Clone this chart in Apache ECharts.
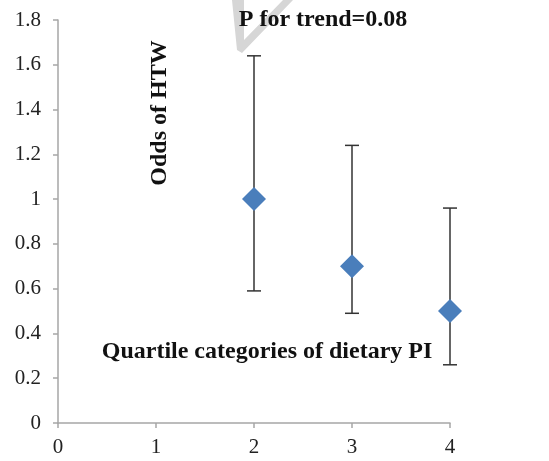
<!DOCTYPE html>
<html><head><meta charset="utf-8">
<script src="https://cdn.jsdelivr.net/npm/echarts@6/dist/echarts.min.js"></script>
<style>html,body{margin:0;padding:0;background:#fff}#c{width:549px;height:461px}</style>
</head><body><div id="c"></div>
<script>
var quartiles = [2, 3, 4];
var odds = [1.0, 0.70, 0.50];
var lowerCI = [0.59, 0.49, 0.26];
var upperCI = [1.64, 1.24, 0.96];
var xTicks = [0, 1, 2, 3, 4];
var yTicks = [0, 0.2, 0.4, 0.6, 0.8, 1, 1.2, 1.4, 1.6, 1.8];

var font = '"Liberation Serif", "Times New Roman", serif';
var chart = echarts.init(document.getElementById('c'));
var pts = quartiles.map(function (q, i) { return [q, odds[i]]; });
var errs = quartiles.map(function (q, i) { return [q, lowerCI[i], upperCI[i]]; });

chart.setOption({
  animation: false,
  grid: { left: 58, right: 99, top: 20, bottom: 38 },
  xAxis: {
    type: 'value', min: xTicks[0], max: xTicks[xTicks.length - 1], interval: 1,
    axisLine: { lineStyle: { color: '#a6a6a6', width: 1.5 } },
    axisTick: { show: true, length: 5, lineStyle: { color: '#a6a6a6', width: 1.5 } },
    axisLabel: { color: '#222', fontFamily: font, fontSize: 21, margin: 14 },
    splitLine: { show: false }
  },
  yAxis: {
    type: 'value', min: yTicks[0], max: yTicks[yTicks.length - 1], interval: 0.2,
    axisLine: { show: true, lineStyle: { color: '#a6a6a6', width: 1.5 } },
    axisTick: { show: true, length: 5, lineStyle: { color: '#a6a6a6', width: 1.5 } },
    axisLabel: { color: '#222', fontFamily: font, fontSize: 21, margin: 17 },
    splitLine: { show: false }
  },
  graphic: [
    { type: 'polygon', z: 1, shape: { points: [[232, 0], [244, 0], [244, 40], [283, 0], [293, 0], [242, 53], [237, 50]] },
      style: { fill: '#d6d6d6' } },
    { type: 'text', z: 10, style: {
        text: 'P for trend=0.08', x: 323, y: 20, textAlign: 'center', textVerticalAlign: 'middle',
        font: 'bold 24px ' + font, fill: '#111' } },
    { type: 'text', z: 10, rotation: Math.PI / 2, x: 160, y: 113, style: {
        text: 'Odds of HTW', textAlign: 'center', textVerticalAlign: 'middle',
        font: 'bold 24px ' + font, fill: '#111' } },
    { type: 'text', z: 10, style: {
        text: 'Quartile categories of dietary PI', x: 267, y: 352, textAlign: 'center', textVerticalAlign: 'middle',
        font: 'bold 24px ' + font, fill: '#111' } }
  ],
  series: [
    {
      type: 'custom',
      data: errs,
      renderItem: function (params, api) {
        var x = api.value(0);
        var lo = api.coord([x, api.value(1)]);
        var hi = api.coord([x, api.value(2)]);
        var w = 7;
        var st = { stroke: '#333', lineWidth: 1.5 };
        return { type: 'group', children: [
          { type: 'line', shape: { x1: lo[0], y1: lo[1], x2: hi[0], y2: hi[1] }, style: st },
          { type: 'line', shape: { x1: lo[0] - w, y1: lo[1], x2: lo[0] + w, y2: lo[1] }, style: st },
          { type: 'line', shape: { x1: hi[0] - w, y1: hi[1], x2: hi[0] + w, y2: hi[1] }, style: st }
        ] };
      },
      z: 2
    },
    {
      type: 'scatter',
      data: pts,
      symbol: 'diamond',
      symbolSize: [24, 24],
      itemStyle: { color: '#4a7ebb', opacity: 1 },
      z: 3
    }
  ]
});
</script></body></html>
